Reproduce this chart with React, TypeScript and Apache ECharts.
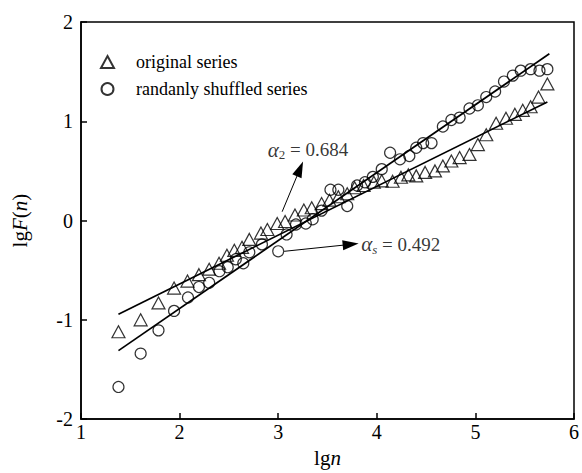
import React, { useEffect, useRef } from "react";
import * as echarts from "echarts";

const FONT = "'Liberation Serif', 'Times New Roman', serif";

const xTicks = [1, 2, 3, 4, 5, 6];
const yTicks = [-2, -1, 0, 1, 2];

const originalSeries: [number, number][] = [
  [1.38, -1.12], [1.605, -1.0], [1.786, -0.83], [1.944, -0.68], [2.08, -0.61],
  [2.196, -0.545], [2.3, -0.49], [2.4, -0.43], [2.48, -0.35], [2.555, -0.3],
  [2.633, -0.27], [2.707, -0.19], [2.825, -0.126], [2.89, -0.09], [2.99, -0.03],
  [3.07, -0.01], [3.17, 0.056], [3.26, 0.106], [3.34, 0.129], [3.44, 0.171],
  [3.52, 0.205], [3.61, 0.24], [3.7, 0.27], [3.775, 0.33], [3.866, 0.353],
  [3.97, 0.386], [4.05, 0.4], [4.16, 0.396], [4.245, 0.436], [4.32, 0.46],
  [4.4, 0.45], [4.49, 0.485], [4.59, 0.5], [4.67, 0.55], [4.756, 0.6],
  [4.84, 0.634], [4.94, 0.666], [5.025, 0.765], [5.11, 0.864], [5.21, 0.98],
  [5.31, 1.03], [5.4, 1.07], [5.48, 1.11], [5.56, 1.146], [5.64, 1.244],
  [5.73, 1.376],
];

const shuffledSeries: [number, number][] = [
  [1.38, -1.676], [1.605, -1.34], [1.786, -1.106], [1.944, -0.91], [2.085, -0.775],
  [2.196, -0.67], [2.3, -0.627], [2.404, -0.51], [2.488, -0.47], [2.57, -0.39],
  [2.646, -0.43], [2.707, -0.32], [2.835, -0.24], [3.0, -0.31], [3.085, -0.14],
  [3.18, -0.04], [3.28, -0.03], [3.35, 0.013], [3.44, 0.1], [3.53, 0.31],
  [3.61, 0.31], [3.7, 0.146], [3.8, 0.353], [3.88, 0.386], [3.96, 0.44],
  [4.05, 0.518], [4.135, 0.683], [4.235, 0.617], [4.33, 0.65], [4.4, 0.733],
  [4.47, 0.78], [4.555, 0.78], [4.67, 0.947], [4.756, 1.013], [4.84, 1.037],
  [4.94, 1.129], [5.025, 1.161], [5.11, 1.244], [5.2, 1.3], [5.29, 1.4],
  [5.38, 1.46], [5.46, 1.51], [5.56, 1.525], [5.65, 1.51], [5.73, 1.525],
];

const shuffledFit: [number, number][] = [[1.38, -1.31], [5.75, 1.68]];
const originalFit: [number, number][] = [[1.38, -0.944], [5.73, 1.195]];

const arrowAlpha2: [number, number][] = [[3.04, 0.089], [3.221, 0.521]];
const arrowAlphaS: [number, number][] = [[3.06, -0.31], [3.735, -0.24]];

const labelAlpha2: [number, number] = [2.888, 0.713];
const labelAlphaS: [number, number] = [3.836, -0.238];

const legendNames = ["original series", "randanly shuffled series"];

export default function App() {
  const ref = useRef<HTMLDivElement>(null);
  useEffect(() => {
    if (!ref.current) return;
    const chart = echarts.init(ref.current, undefined, { renderer: "svg" });
    const rich = {
      a: { fontFamily: FONT, fontStyle: "italic", fontSize: 21, color: "#000" },
      sub: {
        fontFamily: FONT,
        fontSize: 13,
        color: "#000",
        padding: [10, 0, 0, 0],
        verticalAlign: "bottom",
      },
      subi: {
        fontFamily: FONT,
        fontSize: 13,
        fontStyle: "italic",
        color: "#000",
        padding: [10, 0, 0, 0],
        verticalAlign: "bottom",
      },
      t: { fontFamily: FONT, fontSize: 19, color: "#000" },
    };
    const axisName = {
      n: { fontFamily: FONT, fontSize: 21, color: "#000" },
      i: { fontFamily: FONT, fontSize: 21, fontStyle: "italic", color: "#000" },
    };
    chart.setOption({
      animation: false,
      backgroundColor: "#fff",
      grid: {
        left: 81,
        right: 6,
        top: 22,
        bottom: 47,
        show: true,
        borderColor: "#000",
        borderWidth: 1.5,
      },
      legend: {
        data: legendNames,
        orient: "vertical",
        left: 95,
        top: 48,
        padding: 5,
        itemWidth: 13,
        itemHeight: 12,
        itemGap: 9,
        textStyle: {
          fontFamily: FONT,
          fontSize: 18,
          color: "#000",
          padding: [0, 0, 0, 17],
        },
      },
      xAxis: {
        type: "value",
        min: xTicks[0],
        max: xTicks[xTicks.length - 1],
        interval: 1,
        name: "{n|lg}{i|n}",
        nameLocation: "middle",
        nameGap: 23,
        nameTextStyle: { rich: axisName },
        axisLine: { show: true, onZero: false, lineStyle: { color: "#000", width: 1.5 } },
        axisTick: { show: true, inside: true, length: 6, lineStyle: { color: "#000", width: 1.5 } },
        axisLabel: { fontFamily: FONT, fontSize: 20, color: "#000", margin: 3 },
        splitLine: { show: false },
      },
      yAxis: {
        type: "value",
        min: yTicks[0],
        max: yTicks[yTicks.length - 1],
        interval: 1,
        name: "{n|lg}{i|F}{n|(}{i|n}{n|)}",
        nameLocation: "middle",
        nameRotate: 90,
        nameGap: 51,
        nameTextStyle: { rich: axisName },
        axisLine: { show: true, onZero: false, lineStyle: { color: "#000", width: 1.5 } },
        axisTick: { show: true, inside: true, length: 6, lineStyle: { color: "#000", width: 1.5 } },
        axisLabel: { fontFamily: FONT, fontSize: 20, color: "#000", margin: 8 },
        splitLine: { show: false },
      },
      series: [
        {
          name: legendNames[0],
          type: "scatter",
          data: originalSeries,
          symbol: "triangle",
          symbolSize: [13, 12],
          itemStyle: { color: "rgba(0,0,0,0)", borderColor: "#000", borderWidth: 1.2 },
          z: 3,
        },
        {
          name: legendNames[1],
          type: "scatter",
          data: shuffledSeries,
          symbol: "circle",
          symbolSize: 11,
          itemStyle: { color: "rgba(0,0,0,0)", borderColor: "#000", borderWidth: 1.2 },
          z: 3,
        },
        {
          name: "shuffled fit",
          type: "line",
          data: shuffledFit,
          showSymbol: false,
          symbol: "none",
          lineStyle: { color: "#000", width: 1.7 },
          z: 2,
        },
        {
          name: "original fit",
          type: "line",
          data: originalFit,
          showSymbol: false,
          symbol: "none",
          lineStyle: { color: "#000", width: 1.7 },
          z: 2,
        },
        {
          name: "annotations",
          type: "scatter",
          symbolSize: 1,
          itemStyle: { color: "rgba(0,0,0,0)" },
          silent: true,
          label: {
            show: true,
            position: "right",
            distance: 0,
            rich,
          },
          data: [
            { value: labelAlpha2, label: { formatter: "{a|α}{sub|2}{t| = 0.684}" } },
            { value: labelAlphaS, label: { formatter: "{a|α}{subi|s}{t| = 0.492}" } },
          ],
          markLine: {
            silent: true,
            symbol: ["none", "triangle"],
            symbolSize: [10, 16],
            lineStyle: { color: "#000", width: 1, type: "solid" },
            label: { show: false },
            emphasis: { disabled: true },
            data: [
              [{ coord: arrowAlpha2[0] }, { coord: arrowAlpha2[1] }],
              [{ coord: arrowAlphaS[0] }, { coord: arrowAlphaS[1] }],
            ],
          },
          z: 4,
        },
      ],
    });
    return () => chart.dispose();
  }, []);
  return (
    <div
      ref={ref}
      style={{ position: "fixed", left: 0, top: 0, width: 582, height: 473 }}
    />
  );
}
